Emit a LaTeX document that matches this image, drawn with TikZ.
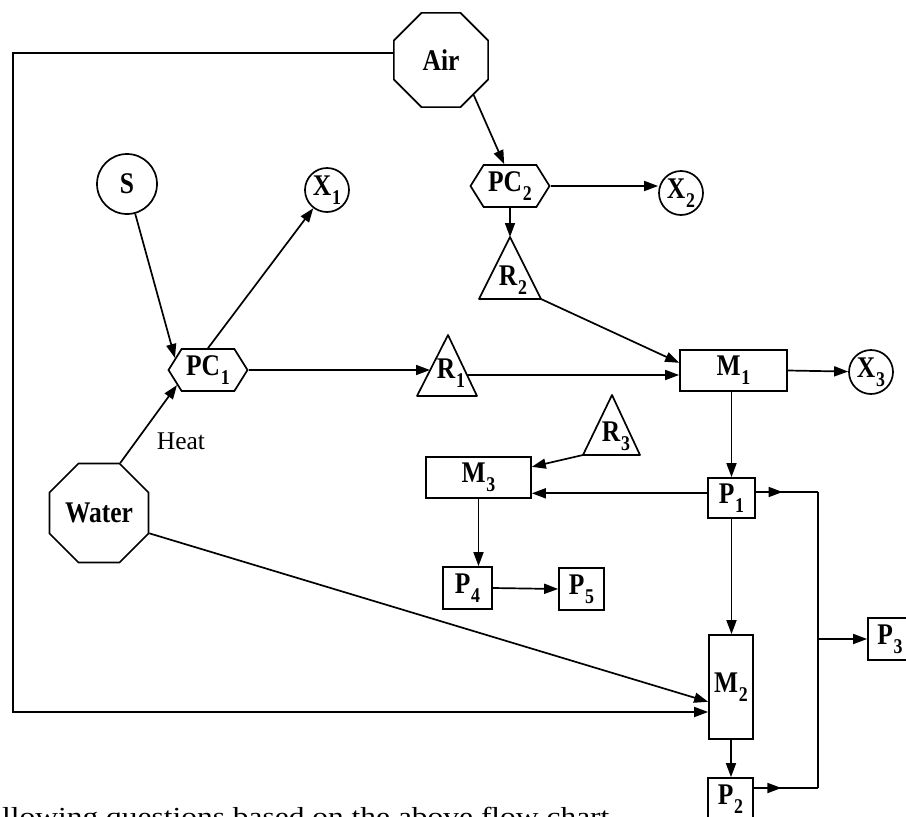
\documentclass[tikz,border=0pt]{standalone}
\usepackage{fontspec}
\setmainfont{Liberation Serif}
\newfontfamily\lblfont{Liberation Serif}[FakeStretch=0.85]
\newfontfamily\capfont{Liberation Serif}[FakeStretch=1.21]
\usetikzlibrary{shapes.geometric,shapes.symbols,arrows.meta,decorations.markings,calc}
\newcommand\sbx[1]{\kern0.8pt\raisebox{-9pt}{\fontsize{21}{21}\selectfont #1}}
\begin{document}
\begin{tikzpicture}[x=1pt,y=-1pt,
  every node/.style={inner sep=1pt, font=\lblfont\bfseries\fontsize{30}{30}\selectfont},
  thickln/.style={line width=1.7pt},
  arr/.style={thickln,-{Triangle[length=14pt,width=10pt]}},
  midarr/.style={thickln,postaction={decorate},decoration={markings,mark=at position 0.43 with {\arrow{Triangle[length=14pt,width=10pt]}}}},
  oct/.style={draw,thickln,regular polygon,regular polygon sides=8,minimum size=102pt},
  circ/.style={draw,thickln,circle,inner sep=0pt},
  hexa/.style={draw,thickln,signal,signal to=west and east,signal pointer angle=116,minimum width=79pt,minimum height=42pt,inner sep=0pt},
  box/.style={draw,thickln,rectangle,inner sep=0pt},
  tri/.style={draw,thickln,line join=round},
  lbl/.style={inner sep=0pt}
]
\useasboundingbox (0,0) rectangle (906,817);

% sources and separators
\node[oct] (Air) at (441,60) {Air};
\node[oct] (Water) at (99,513) {Water};
\node[circ,minimum size=60pt] (S) at (127,184) {S};
\node[circ,minimum size=44pt] (X1) at (327,190) {X\sbx{1}};
\node[circ,minimum size=44pt] (X2) at (681,193) {X\sbx{2}};
\node[circ,minimum size=44pt] (X3) at (871,372) {X\sbx{3}};
\node[hexa] (PC1) at (208,370) {PC\sbx{1}};
\node[hexa] (PC2) at (510,186) {PC\sbx{2}};

% reactors (triangles)
\coordinate (R1top) at (448,335);
\coordinate (R1bl) at (417,396);
\coordinate (R1br) at (477,396);
\draw[tri] (R1top) -- (R1bl) -- (R1br) -- cycle;
\node[lbl] (R1) at (451,373) {R\sbx{1}};
\coordinate (R1w) at (430,370);
\coordinate (R1e) at (467,375);

\coordinate (R2top) at (510,237);
\coordinate (R2bl) at (479,299);
\coordinate (R2br) at (541,299);
\draw[tri] (R2top) -- (R2bl) -- (R2br) -- cycle;
\node[lbl] (R2) at (513,280) {R\sbx{2}};

\coordinate (R3top) at (612,395);
\coordinate (R3bl) at (583,455);
\coordinate (R3br) at (640,455);
\draw[tri] (R3top) -- (R3bl) -- (R3br) -- cycle;
\node[lbl] (R3) at (616,436) {R\sbx{3}};

% mixers and products
\node[box,minimum width=107pt,minimum height=41pt] (M1) at (733.5,370.5) {M\sbx{1}};
\node[box,minimum width=105pt,minimum height=41pt] (M3) at (478.5,477.5) {M\sbx{3}};
\node[box,minimum width=47pt,minimum height=40pt] (P1) at (731.5,498) {P\sbx{1}};
\node[box,minimum width=49pt,minimum height=42pt] (P4) at (467.5,588) {P\sbx{4}};
\node[box,minimum width=45pt,minimum height=42pt] (P5) at (581.5,589) {P\sbx{5}};
\node[box,minimum width=44pt,minimum height=104pt] (M2) at (731,687) {M\sbx{2}};
\node[box,minimum width=45pt,minimum height=42pt] (P2) at (730.5,799) {P\sbx{2}};
\node[box,minimum width=44pt,minimum height=42pt] (P3) at (890,639) {P\sbx{3}};

\node[font=\rmfamily\mdseries\fontsize{25.5}{26}\selectfont] (heat) at (181,441) {Heat};
\node[anchor=base west,inner sep=0pt,font=\capfont\fontsize{26}{26}\selectfont] (cap) at (2,825) {llowing questions based on the above flow chart};

% helper points
\coordinate (m1a) at ($(M1.north west)!0.32!(M1.south west)$);
\coordinate (m3a) at ($(M3.north east)!0.25!(M3.south east)$);
\coordinate (m3b) at ($(M3.north east)!0.87!(M3.south east)$);
\coordinate (m2a) at ($(M2.north west)!0.64!(M2.south west)$);
\coordinate (loopL) at (13,712);
\coordinate (colT) at (818,492);
\coordinate (colB) at (818,788);

% connectors
\draw[arr] (S) -- (PC1.160);
\draw[arr] (PC1.north) -- (X1);
\draw[arr] (Water.67.5) -- (PC1.206);
\draw[arr] (PC1.east) -- (PC1.east -| R1w);
\draw[arr] (Air.-47.6) -- (PC2.105);
\draw[arr] (PC2.east) -- (PC2.east -| X2.west);
\draw[arr] (PC2.south) -- (R2top);
\draw[arr] (R2br) -- (m1a);
\draw[arr] (R1e) -- (R1e -| M1.west);
\draw[arr] (M1.east) -- (X3);
\draw[arr] (M1.south -| P1.north) -- (P1.north);
\draw[arr] (R3bl) -- (m3a);
\draw[arr] (m3b -| P1.west) -- (m3b);
\draw[arr] (M3.south) -- (M3.south |- P4.north);
\draw[arr] (P4.east) -- (P5.west);
\draw[arr] (P1.south) -- (P1.south |- M2.north);
\draw[arr] (M2.south) -- (M2.south |- P2.north);
\draw[arr] (Water.-22.5) -- (m2a);
\draw[arr] (Air.172) -| (loopL) -- (loopL -| M2.west);
\draw[midarr] (colT -| P1.east) -- (colT);
\draw[midarr] (colB -| P2.east) -- (colB);
\draw[thickln] (colT) -- (colB);
\draw[arr] (P3.west -| colT) -- (P3.west);
\end{tikzpicture}
\end{document}
